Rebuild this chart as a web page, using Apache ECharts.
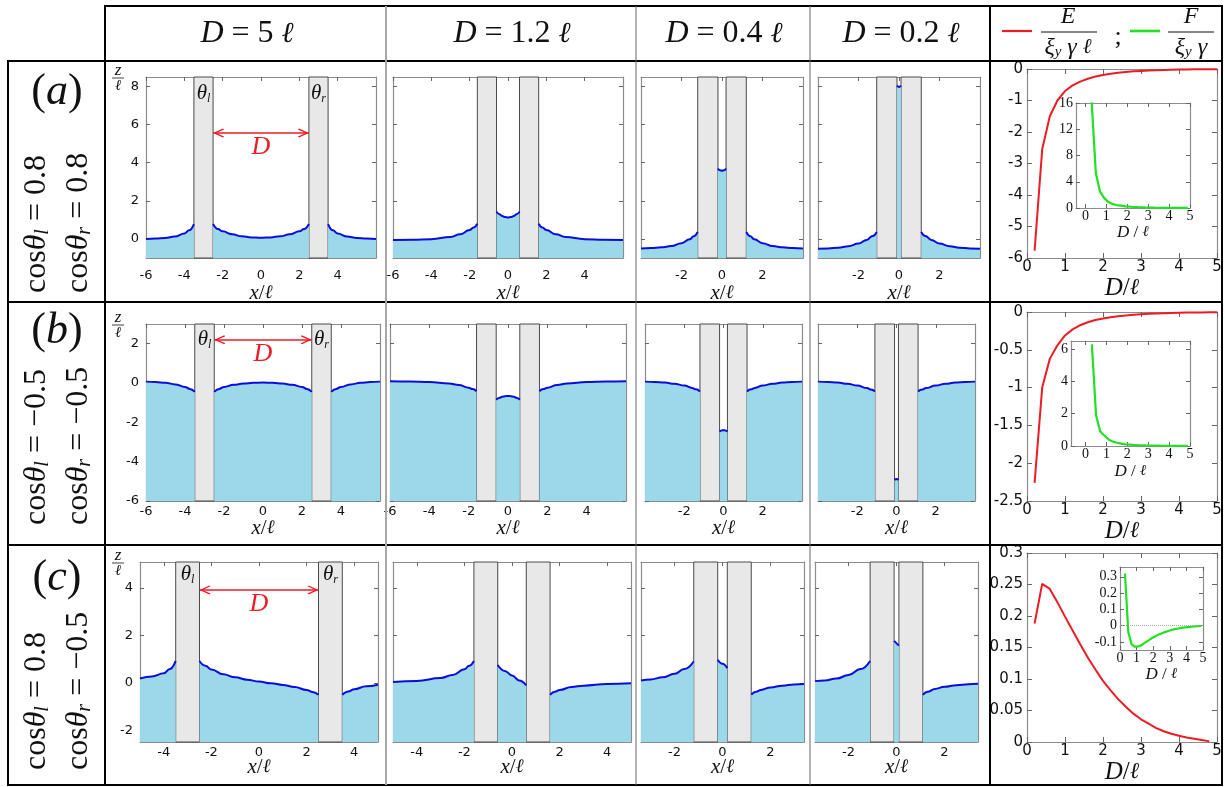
<!DOCTYPE html>
<html>
<head>
<meta charset="utf-8">
<script src="https://cdn.jsdelivr.net/npm/echarts@6.0.0/dist/echarts.min.js"></script>
<style>
html, body { margin: 0; padding: 0; background: #fff; }
#main { width: 1225px; height: 787px; }
</style>
</head>
<body>
<div id="main"></div>
<script>
// plate separations D (in units of l), one per column
const plateGaps = [5, 1.2, 0.4, 0.2];
const gapTexts = ['5', '1.2', '0.4', '0.2'];

// tick labels
const yTicksA = [0, 2, 4, 6, 8];
const yTicksB = [-6, -4, -2, 0, 2];
const yTicksC = [-2, 0, 2, 4];
const xLab6 = [-6, -4, -2, 0, 2, 4];
const xLab5 = [-4, -2, 0, 2, 4];
const xLab4 = [-2, 0, 2];
const dTicks = [0, 1, 2, 3, 4, 5];

// --- surface profiles z/l vs x/l, row (a): cos θl = cos θr = 0.8
const a1L = [[-6, 0.0], [-5.5, 0.02], [-5, 0.05], [-4.5, 0.13], [-4, 0.28], [-3.75, 0.45], [-3.5, 0.78]];
const a1M = [[-2.5, 0.78], [-2.25, 0.52], [-2, 0.4], [-1.5, 0.24], [-1, 0.14], [-0.5, 0.08], [0, 0.06], [0.5, 0.08], [1, 0.14], [1.5, 0.24], [2, 0.4], [2.25, 0.52], [2.5, 0.78]];
const a1R = [[3.5, 0.78], [3.75, 0.45], [4, 0.28], [4.5, 0.13], [5, 0.05], [5.5, 0.02], [6, 0.0]];
const a2L = [[-6, -0.06], [-5, -0.04], [-4, -0.01], [-3, 0.1], [-2.5, 0.24], [-2, 0.47], [-1.8, 0.6], [-1.6, 0.8]];
const a2M = [[-0.6, 1.43], [-0.45, 1.3], [-0.3, 1.2], [-0.15, 1.15], [0, 1.13], [0.15, 1.15], [0.3, 1.2], [0.45, 1.3], [0.6, 1.43]];
const a2R = [[1.6, 0.8], [1.8, 0.6], [2, 0.47], [2.5, 0.24], [3, 0.1], [4, -0.01], [5, -0.04], [6, -0.06]];
const a3L = [[-4, -0.5], [-3.5, -0.48], [-3, -0.44], [-2.5, -0.37], [-2, -0.22], [-1.6, -0.02], [-1.4, 0.14], [-1.2, 0.36]];
const a3M = [[-0.2, 3.7], [-0.1, 3.6], [0, 3.58], [0.1, 3.6], [0.2, 3.7]];
const a3R = [[1.2, 0.36], [1.4, 0.14], [1.6, -0.02], [2, -0.22], [2.5, -0.37], [3, -0.44], [3.5, -0.48], [4, -0.5]];
const a4L = [[-4, -0.52], [-3.5, -0.5], [-3, -0.46], [-2.5, -0.38], [-2, -0.24], [-1.6, -0.05], [-1.3, 0.16], [-1.1, 0.37]];
const a4M = [[-0.1, 8.05], [0, 7.98], [0.1, 8.05]];
const a4R = [[1.1, 0.37], [1.3, 0.16], [1.6, -0.05], [2, -0.24], [2.5, -0.38], [3, -0.46], [3.5, -0.5], [4, -0.52]];

// row (b): cos θl = cos θr = -0.5
const b1L = [[-6, 0.07], [-5.5, 0.05], [-5, 0.01], [-4.5, -0.07], [-4, -0.2], [-3.75, -0.3], [-3.5, -0.45]];
const b1M = [[-2.5, -0.45], [-2.25, -0.3], [-2, -0.2], [-1.5, -0.09], [-1, -0.03], [-0.5, 0.01], [0, 0.02], [0.5, 0.01], [1, -0.03], [1.5, -0.09], [2, -0.2], [2.25, -0.3], [2.5, -0.45]];
const b1R = [[3.5, -0.45], [3.75, -0.3], [4, -0.2], [4.5, -0.07], [5, 0.01], [5.5, 0.05], [6, 0.07]];
const b2L = [[-6, 0.09], [-5, 0.08], [-4, 0.05], [-3, -0.02], [-2.5, -0.1], [-2, -0.24], [-1.8, -0.31], [-1.6, -0.42]];
const b2M = [[-0.6, -0.85], [-0.45, -0.76], [-0.3, -0.7], [-0.15, -0.67], [0, -0.66], [0.15, -0.67], [0.3, -0.7], [0.45, -0.76], [0.6, -0.85]];
const b2R = [[1.6, -0.42], [1.8, -0.31], [2, -0.24], [2.5, -0.1], [3, -0.02], [4, 0.05], [5, 0.08], [6, 0.09]];
const b3L = [[-4, 0.07], [-3.5, 0.05], [-3, 0.02], [-2.5, -0.04], [-2, -0.13], [-1.6, -0.25], [-1.4, -0.32], [-1.2, -0.43]];
const b3M = [[-0.2, -2.47], [-0.1, -2.41], [0, -2.4], [0.1, -2.41], [0.2, -2.47]];
const b3R = [[1.2, -0.43], [1.4, -0.32], [1.6, -0.25], [2, -0.13], [2.5, -0.04], [3, 0.02], [3.5, 0.05], [4, 0.07]];
const b4L = [[-4, 0.07], [-3.5, 0.05], [-3, 0.02], [-2.5, -0.04], [-2, -0.13], [-1.5, -0.26], [-1.3, -0.33], [-1.1, -0.43]];
const b4M = [[-0.1, -4.93], [0, -4.88], [0.1, -4.93]];
const b4R = [[1.1, -0.43], [1.3, -0.33], [1.5, -0.26], [2, -0.13], [2.5, -0.04], [3, 0.02], [3.5, 0.05], [4, 0.07]];

// row (c): cos θl = 0.8, cos θr = -0.5
const c1L = [[-5, 0.18], [-4.5, 0.27], [-4, 0.4], [-3.75, 0.58], [-3.5, 0.92]];
const c1M = [[-2.5, 0.92], [-2.25, 0.72], [-2, 0.56], [-1.5, 0.36], [-1, 0.23], [-0.5, 0.13], [0, 0.05], [0.5, -0.02], [1, -0.09], [1.5, -0.18], [2, -0.3], [2.25, -0.39], [2.5, -0.51]];
const c1R = [[3.5, -0.51], [3.75, -0.37], [4, -0.27], [4.5, -0.15], [5, -0.08]];
const c2L = [[-5, 0.03], [-4, 0.08], [-3, 0.2], [-2.5, 0.33], [-2, 0.57], [-1.8, 0.72], [-1.6, 0.92]];
const c2M = [[-0.6, 0.75], [-0.3, 0.5], [0, 0.31], [0.3, 0.1], [0.6, -0.11]];
const c2R = [[1.6, -0.51], [1.8, -0.38], [2, -0.3], [2.5, -0.18], [3, -0.12], [4, -0.05], [5, -0.02]];
const c3L = [[-3.4, 0.1], [-3, 0.14], [-2.5, 0.23], [-2, 0.38], [-1.6, 0.58], [-1.2, 0.9]];
const c3M = [[-0.2, 0.97], [0, 0.8], [0.2, 0.62]];
const c3R = [[1.2, -0.5], [1.4, -0.38], [1.6, -0.3], [2, -0.2], [2.5, -0.12], [3, -0.07], [3.4, -0.05]];
const c4L = [[-3.4, 0.07], [-3, 0.1], [-2.5, 0.18], [-2, 0.33], [-1.5, 0.58], [-1.1, 0.92]];
const c4M = [[-0.1, 1.77], [0.1, 1.57]];
const c4R = [[1.1, -0.51], [1.3, -0.38], [1.6, -0.26], [2, -0.17], [2.5, -0.1], [3, -0.06], [3.4, -0.04]];

// --- energy E/(ξy γ l) vs D/l and force F/(ξy γ) (inset)
const eD = [0.2, 0.4, 0.6, 0.8, 1.0, 1.2, 1.4, 1.6, 1.8, 2.0, 2.2, 2.4, 2.6, 2.8, 3.0, 3.2, 3.4, 3.6, 3.8, 4.0, 4.2, 4.4, 4.6, 4.8, 5.0];
const fD = [0.3, 0.5, 0.7, 0.9, 1.1, 1.3, 1.5, 1.7, 1.9, 2.1, 2.3, 2.5, 2.7, 2.9, 3.1, 3.3, 3.5, 3.7, 3.9, 4.1, 4.3, 4.5, 4.7, 4.9];
const Ea = [-5.77, -2.55, -1.5, -1.0, -0.7, -0.52, -0.4, -0.31, -0.24, -0.19, -0.15, -0.12, -0.095, -0.075, -0.06, -0.047, -0.037, -0.029, -0.023, -0.018, -0.014, -0.011, -0.009, -0.007, -0.005];
const Fa = [16.1, 5.25, 2.5, 1.5, 0.9, 0.6, 0.45, 0.35, 0.25, 0.2, 0.15, 0.12, 0.1, 0.08, 0.065, 0.05, 0.04, 0.03, 0.025, 0.02, 0.015, 0.012, 0.01, 0.01];
const Eb = [-2.26, -1.0, -0.62, -0.44, -0.31, -0.23, -0.175, -0.135, -0.105, -0.085, -0.068, -0.055, -0.045, -0.036, -0.029, -0.023, -0.019, -0.015, -0.012, -0.01, -0.008, -0.006, -0.005, -0.004, -0.003];
const Fb = [6.3, 1.9, 0.9, 0.65, 0.4, 0.27, 0.2, 0.15, 0.1, 0.085, 0.065, 0.05, 0.045, 0.035, 0.03, 0.02, 0.02, 0.015, 0.01, 0.01, 0.01, 0.005, 0.005, 0.005];
const Ec = [0.188, 0.251, 0.243, 0.222, 0.199, 0.177, 0.155, 0.134, 0.115, 0.097, 0.082, 0.068, 0.056, 0.045, 0.036, 0.029, 0.022, 0.017, 0.013, 0.01, 0.007, 0.005, 0.003, 0.001];
const Fc = [0.32, -0.04, -0.115, -0.13, -0.128, -0.12, -0.105, -0.092, -0.078, -0.067, -0.057, -0.048, -0.04, -0.033, -0.027, -0.022, -0.018, -0.014, -0.011, -0.009, -0.007, -0.005, -0.004, -0.002];

const SERIF = '"Liberation Serif", "DejaVu Serif", serif';
const ELL = '"DejaVu Serif", serif';
const SANS = '"DejaVu Sans", "Liberation Sans", sans-serif';
const BLUE = '#0c0cdc', FILL = '#9bd8e9', PLATE = '#e8e8e8', PLATE_EDGE = '#4a4a4a';
const FRAME = '#8c8c8c', RED = '#ec1c24', GREEN = '#22e022', INK = '#111';
// open chevron whose tip sits at the centre of its box, so it ends exactly on the plate
const ARROW = 'path://M5,-10 L5.01,-10 L5,-10 Z M5,0 L10,9 L9,10 L5,3 L1,10 L0,9 Z';

// layout of every small plot: [left, top, width, height]
const panels = [
  { row: 0, col: 0, box: [146, 77, 230, 181], xr: 6, xl: xLab6, segs: [a1L, a1M, a1R] },
  { row: 0, col: 1, box: [393, 77, 230, 181], xr: 6, xl: xLab6, segs: [a2L, a2M, a2R] },
  { row: 0, col: 2, box: [641, 77, 162, 181], xr: 4, xl: xLab4, segs: [a3L, a3M, a3R] },
  { row: 0, col: 3, box: [818, 77, 162, 181], xr: 4, xl: xLab4, segs: [a4L, a4M, a4R] },
  { row: 1, col: 0, box: [146, 324, 234, 177], xr: 6, xl: xLab6, segs: [b1L, b1M, b1R] },
  { row: 1, col: 1, box: [390, 324, 236, 177], xr: 6, xl: xLab6, segs: [b2L, b2M, b2R] },
  { row: 1, col: 2, box: [645, 324, 157, 177], xr: 4, xl: xLab4, segs: [b3L, b3M, b3R] },
  { row: 1, col: 3, box: [818, 324, 157, 177], xr: 4, xl: xLab4, segs: [b4L, b4M, b4R] },
  { row: 2, col: 0, box: [140, 562, 238, 180], xr: 5, xl: xLab5, segs: [c1L, c1M, c1R] },
  { row: 2, col: 1, box: [393, 562, 238, 180], xr: 5, xl: xLab5, segs: [c2L, c2M, c2R] },
  { row: 2, col: 2, box: [641, 562, 163, 180], xr: 3.4, xl: xLab4, segs: [c3L, c3M, c3R] },
  { row: 2, col: 3, box: [815, 562, 163, 180], xr: 3.4, xl: xLab4, segs: [c4L, c4M, c4R] }
];
const rowY = [
  { min: -1, max: 8.5, ticks: yTicksA, margin: 11, nameGap: 25, arrowZ: 5.56, thetaDist: 6 },
  { min: -6, max: 3, ticks: yTicksB, margin: 4, nameGap: 17, arrowZ: 2.2, thetaDist: 5 },
  { min: -2.5, max: 5.1, ticks: yTicksC, margin: 4, nameGap: 15, arrowZ: 3.92, thetaDist: 2 }
];
const energyPlots = [
  { box: [1027, 69, 190, 189], nameGap: 12, y: { min: -6, max: 0, ticks: [-6, -5, -4, -3, -2, -1, 0] }, e: Ea,
    inset: { box: [1076, 103, 114, 105], nameGap: 16, xmin: -0.45, y: { min: 0, max: 16, ticks: [0, 4, 8, 12, 16] }, f: Fa } },
  { box: [1027, 312, 190, 189], nameGap: 13, y: { min: -2.5, max: 0, ticks: [-2.5, -2, -1.5, -1, -0.5, 0] }, e: Eb,
    inset: { box: [1071, 341, 119, 105], nameGap: 17, xmin: -0.7, y: { min: 0, max: 6.5, ticks: [0, 2, 4, 6] }, f: Fb } },
  { box: [1027, 553, 190, 189], nameGap: 15, y: { min: 0, max: 0.3, ticks: [0, 0.05, 0.1, 0.15, 0.2, 0.25, 0.3] }, e: Ec,
    inset: { box: [1120, 567, 83, 83], nameGap: 15, xmin: 0, y: { min: -0.15, max: 0.36, ticks: [-0.1, 0, 0.1, 0.2, 0.3] }, f: Fc, zeroLine: true } }
];

const grids = [], xAxes = [], yAxes = [], series = [];

function addGrid(box, bg) {
  grids.push({
    left: box[0], top: box[1], width: box[2], height: box[3],
    show: !!bg, backgroundColor: bg || 'transparent', borderWidth: 0,
    containLabel: false, outerBoundsMode: 'none'
  });
  return grids.length - 1;
}

function nameRich(size) {
  return {
    i: { fontFamily: SERIF, fontStyle: 'italic', fontSize: size, color: INK },
    n: { fontFamily: SERIF, fontSize: size, color: INK },
    l: { fontFamily: ELL, fontStyle: 'italic', fontSize: size * 0.9, color: INK }
  };
}

// two axes per dimension (labelled one + mirrored one), ticks inside like a boxed plot
function addAxes(dim, gi, o) {
  const list = dim === 'x' ? xAxes : yAxes;
  const sides = dim === 'x' ? ['bottom', 'top'] : ['left', 'right'];
  const first = list.length;
  sides.forEach(function (side, k) {
    list.push({
      type: 'value', gridIndex: gi, position: side, min: o.min, max: o.max,
      axisLine: { show: true, onZero: false, lineStyle: { color: FRAME, width: 1.2 } },
      axisTick: { show: true, inside: true, length: o.tickLen || 4, customValues: o.ticks, lineStyle: { color: '#666' } },
      axisLabel: (k === 0 && o.labels) ? {
        show: true, customValues: o.labels, margin: o.margin, color: INK,
        fontFamily: o.font, fontSize: o.size, hideOverlap: false
      } : { show: false },
      splitLine: { show: false },
      name: k === 0 ? (o.name || '') : '',
      nameLocation: 'middle', nameGap: o.nameGap || 20,
      nameMoveOverlap: o.keepName ? false : true,
      nameTextStyle: { rich: nameRich(o.nameSize || 20) }
    });
  });
  return first;
}

function thetaLabel(sub) {
  return { show: true, formatter: '{t|θ}{s|' + sub + '}' };
}

panels.forEach(function (p) {
  const ry = rowY[p.row];
  const gap = plateGaps[p.col];
  const gi = addGrid(p.box);
  const xi = addAxes('x', gi, {
    min: -p.xr, max: p.xr, ticks: p.xl, labels: p.xl, margin: ry.margin,
    font: SANS, size: 13, name: '{i|x}{n|/}{l|ℓ}', nameGap: ry.nameGap, nameSize: 21, keepName: true
  });
  const yi = addAxes('y', gi, {
    min: ry.min, max: ry.max, ticks: ry.ticks, labels: p.col === 0 ? ry.ticks : null,
    margin: 7, font: SANS, size: 13
  });
  p.segs.forEach(function (seg, k) {
    const s = {
      type: 'line', xAxisIndex: xi, yAxisIndex: yi, data: seg,
      showSymbol: false, smooth: 0.45, smoothMonotone: 'x', silent: true, z: 2,
      lineStyle: { color: BLUE, width: 2 },
      areaStyle: { color: FILL, origin: 'start', opacity: 1 }
    };
    if (k === 0) {
      const withText = p.col === 0;
      s.markArea = {
        silent: true,
        itemStyle: { color: PLATE, borderColor: PLATE_EDGE, borderWidth: 1 },
        label: {
          show: false, position: 'insideTop', distance: ry.thetaDist,
          rich: {
            t: { fontFamily: SERIF, fontStyle: 'italic', fontSize: 21, color: INK, lineHeight: 22 },
            s: { fontFamily: SERIF, fontStyle: 'italic', fontSize: 12, color: INK, lineHeight: 8, verticalAlign: 'bottom' }
          }
        },
        data: [
          [{ xAxis: -gap / 2 - 1, label: withText ? thetaLabel('l') : { show: false } }, { xAxis: -gap / 2 }],
          [{ xAxis: gap / 2, label: withText ? thetaLabel('r') : { show: false } }, { xAxis: gap / 2 + 1 }]
        ]
      };
      if (withText) {
        s.markLine = {
          silent: true, symbol: [ARROW, ARROW], symbolSize: [9, 22],
          lineStyle: { color: RED, width: 1.6, type: 'solid' },
          label: {
            show: true, formatter: 'D', position: 'insideMiddleBottom', distance: 1,
            color: RED, fontFamily: SERIF, fontStyle: 'italic', fontSize: 26
          },
          data: [[{ coord: [-gap / 2, ry.arrowZ] }, { coord: [gap / 2, ry.arrowZ] }]]
        };
      }
    }
    series.push(s);
  });
});

energyPlots.forEach(function (ep) {
  const gi = addGrid(ep.box);
  const xi = addAxes('x', gi, {
    min: 0, max: 5, ticks: dTicks, labels: dTicks, margin: 2, font: SANS, size: 15,
    name: '{i|D}{n|/}{l|ℓ}', nameGap: ep.nameGap, nameSize: 25, tickLen: 5
  });
  const yi = addAxes('y', gi, {
    min: ep.y.min, max: ep.y.max, ticks: ep.y.ticks, labels: ep.y.ticks, margin: 4,
    font: SANS, size: 15, tickLen: 5
  });
  series.push({
    type: 'line', xAxisIndex: xi, yAxisIndex: yi, silent: true, showSymbol: false, z: 3,
    data: ep.e.map(function (v, i) { return [eD[i], v]; }),
    lineStyle: { color: RED, width: 2 }
  });

  const ins = ep.inset;
  const gj = addGrid(ins.box, '#fff');
  const xj = addAxes('x', gj, {
    min: ins.xmin, max: 5, ticks: dTicks, labels: dTicks, margin: 1, font: SERIF, size: 14,
    name: '{i|D}{n| / }{l|ℓ}', nameGap: ins.nameGap, nameSize: 17, tickLen: 4
  });
  const yj = addAxes('y', gj, {
    min: ins.y.min, max: ins.y.max, ticks: ins.y.ticks, labels: ins.y.ticks, margin: 3,
    font: SERIF, size: 14, tickLen: 4
  });
  const fs = {
    type: 'line', xAxisIndex: xj, yAxisIndex: yj, silent: true, showSymbol: false, z: 4,
    data: ins.f.map(function (v, i) { return [fD[i], v]; }),
    lineStyle: { color: GREEN, width: 2.2 }
  };
  if (ins.zeroLine) {
    fs.markLine = {
      silent: true, symbol: 'none', label: { show: false },
      lineStyle: { color: '#aaa', type: 'dotted', width: 1 },
      data: [{ yAxis: 0 }]
    };
  }
  series.push(fs);
});

// ---------- table frame, headers and row captions
const graphic = [];
function hline(x1, x2, y, color, w) {
  graphic.push({ type: 'line', silent: true, z: 50, shape: { x1: x1, y1: y, x2: x2, y2: y }, style: { stroke: color, lineWidth: w } });
}
function vline(x, y1, y2, color, w) {
  graphic.push({ type: 'line', silent: true, z: 50, shape: { x1: x, y1: y1, x2: x, y2: y2 }, style: { stroke: color, lineWidth: w } });
}
hline(105, 1223, 6, '#000', 2);
hline(7, 1223, 61, '#000', 2);
hline(7, 1223, 302, '#000', 2);
hline(7, 1223, 545, '#000', 2);
hline(7, 1223, 785, '#000', 2);
vline(8, 60, 786, '#000', 2);
vline(105, 5, 786, '#000', 2);
vline(1222, 5, 786, '#000', 2);
vline(990, 5, 786, '#000', 2);
vline(386, 6, 785, '#a8a8a8', 2);
vline(636, 6, 785, '#666', 1);
vline(810, 6, 785, '#666', 1);

function text(x, y, str, rich, extra) {
  const el = {
    type: 'text', x: x, y: y, silent: true, z: 60,
    style: Object.assign({ text: str, rich: rich, align: 'center', verticalAlign: 'middle', fill: INK }, extra || {})
  };
  graphic.push(el);
  return el;
}
const headRich = {
  n: { fontFamily: SERIF, fontSize: 32, color: INK },
  i: { fontFamily: SERIF, fontStyle: 'italic', fontSize: 32, color: INK },
  l: { fontFamily: ELL, fontStyle: 'italic', fontSize: 29, color: INK }
};
const headerX = [247, 512, 724, 901];
gapTexts.forEach(function (g, k) {
  text(headerX[k], 34, '{i|D}{n| = ' + g + ' }{l|ℓ}', headRich);
});

// legend header: E/(ξy γ l) ; F/(ξy γ)
const fracRich = {
  i: { fontFamily: SERIF, fontStyle: 'italic', fontSize: 24, color: INK },
  s: { fontFamily: SERIF, fontStyle: 'italic', fontSize: 15, color: INK, lineHeight: 10, verticalAlign: 'bottom' },
  n: { fontFamily: SERIF, fontSize: 26, color: INK },
  l: { fontFamily: ELL, fontStyle: 'italic', fontSize: 21, color: INK }
};
hline(1002, 1032, 31, RED, 2.2);
text(1068, 17, '{i|E}', fracRich);
hline(1041, 1097, 32, INK, 1);
text(1068, 48, '{i|ξ}{s|y}{i| γ }{l|ℓ}', fracRich);
text(1118, 37, '{n|;}', fracRich);
hline(1130, 1160, 31, GREEN, 2.6);
text(1191, 17, '{i|F}', fracRich);
hline(1168, 1214, 32, INK, 1);
text(1191, 48, '{i|ξ}{s|y}{i| γ}', fracRich);

// row captions
const capRich = {
  p: { fontFamily: SERIF, fontSize: 44, color: RED },
  i: { fontFamily: SERIF, fontStyle: 'italic', fontSize: 44, color: RED }
};
const capRows = [['a', 92], ['b', 331], ['c', 578]];
capRows.forEach(function (c) { text(57, c[1], '{p|(}{i|' + c[0] + '}{p|)}', capRich); });

const cosRich = {
  n: { fontFamily: SERIF, fontSize: 32, color: INK },
  t: { fontFamily: SERIF, fontStyle: 'italic', fontSize: 32, color: INK },
  s: { fontFamily: SERIF, fontStyle: 'italic', fontSize: 20, color: INK, lineHeight: 14, verticalAlign: 'bottom' }
};
const cosTexts = [
  ['l', ' = 0.8', 'r', ' = 0.8', 293],
  ['l', ' = −0.5', 'r', ' = −0.5', 525],
  ['l', ' = 0.8', 'r', ' = −0.5', 770]
];
cosTexts.forEach(function (c) {
  [[37, c[0], c[1]], [79, c[2], c[3]]].forEach(function (ln) {
    const el = text(ln[0], c[4], '{n|cos}{t|θ}{s|' + ln[1] + '}{n|' + ln[2] + '}', cosRich, { align: 'left' });
    el.rotation = Math.PI / 2;
  });
});

// z / l fraction beside each first panel
const zRich = {
  i: { fontFamily: SERIF, fontStyle: 'italic', fontSize: 17, color: INK },
  l: { fontFamily: ELL, fontStyle: 'italic', fontSize: 15, color: INK }
};
[77, 324, 562].forEach(function (top) {
  text(118, top - 6, '{i|z}', zRich);
  hline(112, 124, top + 1, INK, 0.8);
  text(118, top + 9, '{l|ℓ}', zRich);
});

const chart = echarts.init(document.getElementById('main'));
chart.setOption({
  animation: false,
  backgroundColor: '#fff',
  grid: grids,
  xAxis: xAxes,
  yAxis: yAxes,
  series: series,
  graphic: graphic
});
</script>
</body>
</html>
